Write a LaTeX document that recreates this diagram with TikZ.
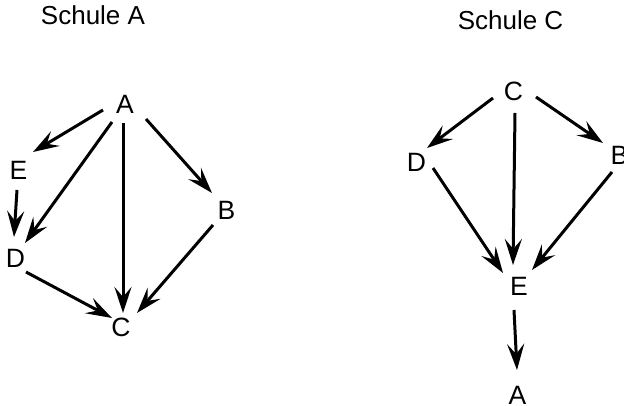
\documentclass[tikz,border=0pt]{standalone}
\usepackage{fontspec}
\setmainfont{Liberation Sans}
\usetikzlibrary{arrows.meta,calc}
\begin{document}
\begin{tikzpicture}[x=1pt,y=-1pt,
  lbl/.style={inner sep=0pt,font=\fontsize{26.5}{26.5}\selectfont},
  ttl/.style={inner sep=0pt,font=\fontsize{26}{26}\selectfont},
  arr/.style={line width=3pt,-{Stealth[length=26pt,width=17pt,inset=10pt]}}]
\useasboundingbox[fill=white] (0,0) rectangle (624,406);
% titles
\node[ttl] (tA) at (93,15) {Schule A};
\node[ttl] (tC) at (510.5,20) {Schule C};
% Schule A
\node[lbl] (aA) at (125,104) {A};
\node[lbl] (aE) at (18.5,170) {E};
\node[lbl] (aD) at (15.5,258) {D};
\node[lbl] (aB) at (226.5,210) {B};
\node[lbl] (aC) at (121,327) {C};
\draw[arr] ($(aA)+(-22,6)$) -- ($(aE)+(14.5,-18)$);
\draw[arr] ($(aA)+(-13,18)$) -- ($(aD)+(9.5,-15)$);
\draw[arr] ($(aA)+(-2,19)$) -- ($(aC)+(2,-14)$);
\draw[arr] ($(aA)+(21,15)$) -- ($(aB)+(-14.5,-17)$);
\draw[arr] ($(aE)+(-1.5,20)$) -- ($(aD)+(-1.5,-21)$);
\draw[arr] ($(aB)+(-13.5,15)$) -- ($(aC)+(16,-14)$);
\draw[arr] ($(aD)+(10.5,14)$) -- ($(aC)+(-9,-9)$);
% Schule C
\node[lbl] (cC) at (513.5,91) {C};
\node[lbl] (cD) at (416.5,162) {D};
\node[lbl] (cB) at (619.5,155) {B};
\node[lbl] (cE) at (519,286) {E};
\node[lbl] (cA) at (517.5,395) {A};
\draw[arr] ($(cC)+(-20.5,7)$) -- ($(cD)+(10.5,-14)$);
\draw[arr] ($(cC)+(1.5,22)$) -- ($(cE)+(-6,-21)$);
\draw[arr] ($(cC)+(22.5,6)$) -- ($(cB)+(-16.5,-12)$);
\draw[arr] ($(cD)+(16.5,6)$) -- ($(cE)+(-16,-13)$);
\draw[arr] ($(cB)+(-7.5,17)$) -- ($(cE)+(13,-16)$);
\draw[arr] ($(cE)+(-5,24)$) -- ($(cA)+(-0.5,-25)$);
\end{tikzpicture}
\end{document}
